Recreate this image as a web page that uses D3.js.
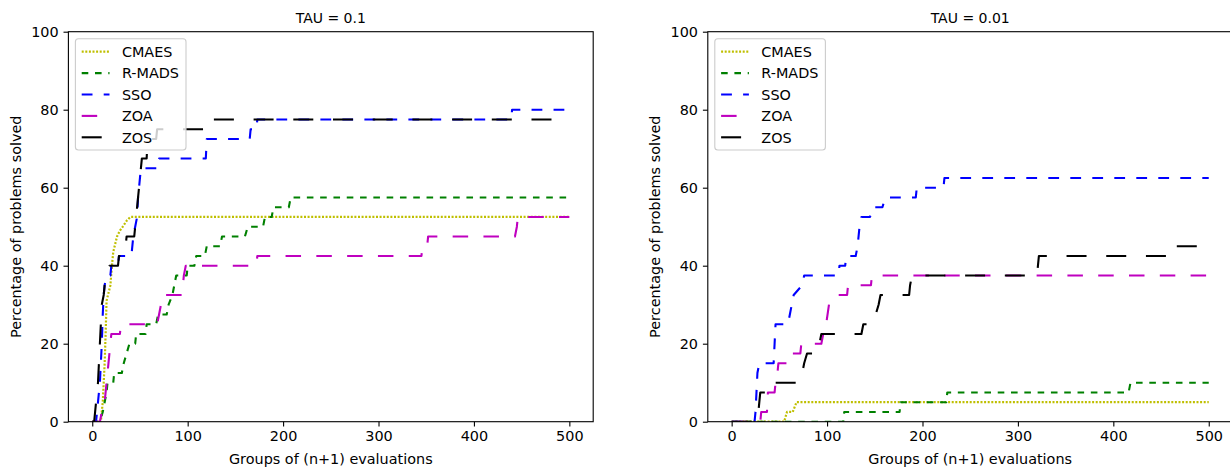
<!DOCTYPE html>
<html>
<head>
<meta charset="utf-8">
<script src="https://cdn.jsdelivr.net/npm/d3@7"></script>
<style>
  body { margin: 0; background: #fff; }
  svg { display: block; }
  text { font-family: "DejaVu Sans", sans-serif; fill: #000; }
</style>
</head>
<body>
<svg id="chart" width="1230" height="468"></svg>
<script>
// ---- labels -------------------------------------------------------------
const methods = ["CMAES", "R-MADS", "SSO", "ZOA", "ZOS"];
const panelTitles = ["TAU = 0.1", "TAU = 0.01"];
const xTickValues = [0, 100, 200, 300, 400, 500];
const yTickValues = [0, 20, 40, 60, 80, 100];
const xLabel = "Groups of (n+1) evaluations";
const yLabel = "Percentage of problems solved";

// ---- data profiles, TAU = 0.1 : [groups of evaluations, % solved] -------
const cmaesTau1 = [[0,0],[9,0],[11,5],[12,10],[13,15],[14,22.5],[15,31],[17,33],[19,35],[20,38],[21,41],[22,43.5],[24,45.5],[26,47.5],[29,49],[32,50],[36,51.5],[40,52.5],[500,52.5]];
const rmadsTau1 = [[0,0],[8,0],[11,2.5],[13,5],[15,7.5],[16,10],[22,10],[23,12.5],[31,12.5],[33,15],[36,17.5],[39,20],[45,20],[46,22.5],[56,22.5],[57,25],[67,25],[69,27.5],[78,27.5],[80,30],[84,32.5],[86,35],[88,37.5],[99,37.5],[100,40],[107,40],[109,42.5],[118,42.5],[120,45],[134,45],[136,47.5],[160,47.5],[163,50],[179,50],[181,52.5],[188,52.5],[190,55],[206,55],[208,57.5],[500,57.5]];
const ssoTau1 = [[0,0],[4,0],[6,5],[8,10],[9,15],[10,20],[11,27.5],[12,32.5],[13,35],[15,37.5],[19,37.5],[20,40],[27,40],[28,42.5],[41,42.5],[43,47.5],[45,50],[47,52.5],[48,57.5],[50,62.5],[51,65],[69,65],[70,67.5],[119,67.5],[120,72.5],[165,72.5],[166,75],[172,75],[173,77.5],[439,77.5],[440,80],[500,80]];
const zoaTau1 = [[0,0],[8,0],[10,2.5],[13,5],[15,10],[17,15],[19,20],[20,22.5],[29,22.5],[30,25],[68,25],[70,27.5],[72,30],[73,32.5],[94,32.5],[95,35],[96,37.5],[98,40],[172,40],[173,42.5],[345,42.5],[346,45],[351,45],[352,47.5],[443,47.5],[445,50],[446,52.5],[500,52.5]];
const zosTau1 = [[0,0],[2,0],[3,2.5],[4,5],[6,10],[7,15],[8,20],[9,25],[10,30],[12,32.5],[13,35],[16,37.5],[18,40],[27,40],[28,42.5],[34,42.5],[35,45],[36,47.5],[44,47.5],[46,52.5],[48,57.5],[50,62.5],[51,65],[52,67.5],[57,67.5],[58,72.5],[67,72.5],[68,75],[119,75],[120,77.5],[500,77.5]];

// ---- data profiles, TAU = 0.01 ------------------------------------------
const cmaesTau2 = [[0,0],[55,0],[58,2.5],[64,2.5],[68,5],[500,5]];
const rmadsTau2 = [[0,0],[117,0],[118,2.5],[176,2.5],[177,5],[225,5],[226,7.5],[416,7.5],[418,10],[500,10]];
const ssoTau2 = [[0,0],[24,0],[25,2.5],[26,7.5],[27,12.5],[29,15],[44,15],[45,20],[46,25],[59,25],[61,27.5],[63,30],[65,32.5],[74,35],[76,37.5],[112,37.5],[113,40],[119,40],[120,42.5],[130,42.5],[132,45],[134,50],[136,52.5],[145,52.5],[148,55],[158,55],[161,57.5],[193,57.5],[194,60],[222,60],[223,62.5],[500,62.5]];
const zoaTau2 = [[0,0],[30,0],[31,2.5],[37,2.5],[38,7.5],[45,7.5],[46,10],[48,12.5],[49,15],[59,15],[60,17.5],[72,17.5],[73,20],[94,20],[96,22.5],[99,25],[102,30],[108,32.5],[121,32.5],[122,35],[146,35],[147,37.5],[500,37.5]];
const zosTau2 = [[0,0],[27,0],[28,2.5],[29,5],[30,7.5],[36,7.5],[37,10],[72,10],[74,12.5],[76,15],[79,17.5],[91,17.5],[92,20],[94,22.5],[136,22.5],[138,25],[149,25],[151,27.5],[154,30],[156,32.5],[186,32.5],[187,35],[189,37.5],[320,37.5],[321,40],[322,42.5],[460,42.5],[461,45],[500,45]];

// ---- line styles per method ---------------------------------------------
const styles = {
  "CMAES":  { color: "#bfbf00", dash: "2,1.6" },
  "R-MADS": { color: "#008000", dash: "6.6,6.7" },
  "SSO":    { color: "#0000ff", dash: "10.8,11.2" },
  "ZOA":    { color: "#bf00bf", dash: "15.5,15.3" },
  "ZOS":    { color: "#000000", dash: "20,19.7" }
};
const lineWidth = 2.1;

const panels = [
  { title: panelTitles[0], left: 68.4,  series: [cmaesTau1, rmadsTau1, ssoTau1, zoaTau1, zosTau1] },
  { title: panelTitles[1], left: 707.8, series: [cmaesTau2, rmadsTau2, ssoTau2, zoaTau2, zosTau2] }
];

const axW = 524.8, axTop = 31.7, axBottom = 421.7;
const fontSize = 14.4;
const titleSize = 14;
const svg = d3.select("#chart");

panels.forEach((p, pi) => {
  const x = d3.scaleLinear().domain([-25, 525]).range([p.left, p.left + axW]);
  const y = d3.scaleLinear().domain([0, 100]).range([axBottom, axTop]);
  const g = svg.append("g");

  const clipId = "clip" + pi;
  g.append("clipPath").attr("id", clipId)
    .append("rect")
    .attr("x", p.left).attr("y", axTop)
    .attr("width", axW).attr("height", axBottom - axTop);

  const line = d3.line().x(d => x(d[0])).y(d => y(d[1]));

  const plot = g.append("g").attr("clip-path", `url(#${clipId})`);
  p.series.forEach((data, i) => {
    const st = styles[methods[i]];
    plot.append("path")
      .datum(data)
      .attr("d", line)
      .attr("fill", "none")
      .attr("stroke", st.color)
      .attr("stroke-width", methods[i] === "CMAES" ? 2.2 : lineWidth)
      .attr("stroke-dasharray", st.dash)
      .attr("stroke-linecap", "butt")
      .attr("stroke-linejoin", "round");
  });

  // x axis
  const xAxis = g.append("g")
    .attr("transform", `translate(0,${axBottom})`)
    .call(d3.axisBottom(x).tickValues(xTickValues).tickSize(4.9).tickPadding(4.2).tickFormat(d3.format("d")));
  // y axis
  const yAxis = g.append("g")
    .attr("transform", `translate(${p.left},0)`)
    .call(d3.axisLeft(y).tickValues(yTickValues).tickSize(4.9).tickPadding(4.9).tickFormat(d3.format("d")));
  [xAxis, yAxis].forEach(a => {
    a.select(".domain").remove();
    a.selectAll(".tick line").attr("stroke", "#000").attr("stroke-width", 1.1);
    a.selectAll(".tick text")
      .attr("font-size", fontSize)
      .attr("font-family", '"DejaVu Sans", sans-serif')
      .attr("fill", "#000");
  });

  // spines
  g.append("rect")
    .attr("x", p.left).attr("y", axTop)
    .attr("width", axW).attr("height", axBottom - axTop)
    .attr("fill", "none").attr("stroke", "#000").attr("stroke-width", 1.1);

  // title and axis labels
  g.append("text")
    .attr("x", p.left + axW / 2).attr("y", 23)
    .attr("text-anchor", "middle").attr("font-size", titleSize)
    .text(p.title);
  g.append("text")
    .attr("x", p.left + axW / 2).attr("y", 464)
    .attr("text-anchor", "middle").attr("font-size", fontSize)
    .text(xLabel);
  g.append("text")
    .attr("transform", `translate(${p.left - 47.5},${(axTop + axBottom) / 2}) rotate(-90)`)
    .attr("text-anchor", "middle").attr("font-size", fontSize)
    .text(yLabel);

  // legend
  const lx = p.left + 7, ly = axTop + 7;
  const leg = g.append("g");
  leg.append("rect")
    .attr("x", lx).attr("y", ly)
    .attr("width", 110.6).attr("height", 111.3)
    .attr("rx", 3).attr("ry", 3)
    .attr("fill", "#fff").attr("fill-opacity", 0.8)
    .attr("stroke", "#cccccc").attr("stroke-width", 1.1);
  methods.forEach((m, i) => {
    const cy = ly + 13 + i * 21.4;
    const st = styles[m];
    leg.append("line")
      .attr("x1", lx + 6.3).attr("x2", lx + 34.1)
      .attr("y1", cy).attr("y2", cy)
      .attr("stroke", st.color)
      .attr("stroke-width", m === "CMAES" ? 2.2 : lineWidth)
      .attr("stroke-dasharray", st.dash);
    leg.append("text")
      .attr("x", lx + 46.5).attr("y", cy + 5.2)
      .attr("font-size", fontSize)
      .text(m);
  });
});
</script>
</body>
</html>
